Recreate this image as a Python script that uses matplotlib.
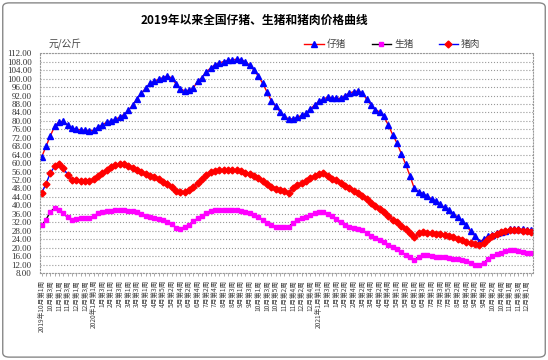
import matplotlib
matplotlib.use("Agg")
import matplotlib.pyplot as plt
from matplotlib.patches import FancyBboxPatch

plt.rcParams['font.family'] = ['Noto Sans CJK SC', 'DejaVu Sans']

# 每月的周数 (年, 月, 周数)
months = [(2019, 10, 4), (2019, 11, 4), (2019, 12, 4),
          (2020, 1, 4), (2020, 2, 4), (2020, 3, 4), (2020, 4, 5), (2020, 5, 4), (2020, 6, 4),
          (2020, 7, 5), (2020, 8, 4), (2020, 9, 4), (2020, 10, 5), (2020, 11, 4), (2020, 12, 5),
          (2021, 1, 5), (2021, 2, 4), (2021, 3, 4), (2021, 4, 5), (2021, 5, 4), (2021, 6, 4),
          (2021, 7, 5), (2021, 8, 4), (2021, 9, 4), (2021, 10, 5), (2021, 11, 4), (2021, 12, 2)]

piglet = [63, 68, 73, 77.5, 79.5, 79.8, 78, 76.5, 76, 75.8,
          75.6, 75.4, 75.5, 77, 78.2, 79.3, 80, 80.7, 81.8, 83,
          85, 87.5, 90.5, 93, 95.5, 97.8, 98.8, 99.7, 100.5, 101.3,
          100.3, 97.5, 95, 94.3, 94.5, 95.6, 98.8, 100.5, 103.3, 105,
          106.6, 107.4, 108.1, 108.6, 108.9, 109.2, 109, 108, 106.4, 104,
          101.2, 97.8, 93.7, 89.5, 86.9, 84.4, 82.1, 80.9, 81, 81.7,
          82.6, 83.6, 85.5, 87.6, 89.2, 90.4, 91.2, 91, 90.6, 90.7,
          92, 93.2, 93.8, 94.1, 93.3, 90.3, 87.6, 85.2, 84.3, 82.1,
          78, 73.5, 69.5, 64.5, 59.5, 54, 48, 46.5, 45.6, 44.3,
          43.1, 42, 40.5, 39, 37.8, 35.9, 34.5, 32.6, 30.5, 27.8,
          25.5, 22.8, 23.9, 25.3, 26.1, 26.8, 27.4, 28.1, 28.7, 28.9,
          28.9, 28.7, 28.4, 28.3]

hog = [30.5, 33.3, 37, 38.8, 38, 36.2, 34.3, 33, 33.7, 33.8,
       33.8, 34, 35, 36.2, 36.8, 37.2, 37.5, 37.7, 37.9, 37.7,
       37.4, 37.3, 36.8, 36.1, 35.2, 34.5, 34, 33.6, 32.9, 32.3,
       31.2, 29.4, 29, 29.8, 30.8, 32.5, 33.8, 35, 36.5, 37.4,
       37.6, 37.7, 37.7, 37.7, 37.7, 37.6, 37.4, 36.9, 36.3, 35.6,
       34.6, 33.2, 31.5, 30.5, 30, 29.9, 29.9, 29.9, 31.7, 33,
       34, 34.4, 35.4, 36.4, 36.8, 36.7, 35.8, 34.8, 33.5, 31.9,
       30.5, 29.8, 29.3, 28.9, 28.3, 27.1, 25.7, 24.6, 23.5, 22.6,
       21.4, 20.3, 19.3, 17.9, 16.7, 15.6, 14.1, 15.8, 16.3, 16.3,
       16, 15.8, 15.7, 15.5, 15.1, 14.8, 14.5, 14.1, 13.7, 12.8,
       12, 11.9, 12.8, 14.5, 16, 16.8, 17.6, 18.2, 18.7, 18.8,
       18.6, 18, 17.4, 17.3]

pork = [46, 50.3, 55.4, 58.5, 59.6, 57.5, 54.5, 51.9, 51.8, 51.6,
        51.4, 51.5, 52.5, 53.8, 55.2, 56.6, 58.2, 59.2, 59.7, 59.4,
        58.8, 57.7, 56.9, 55.8, 54.9, 54.1, 53.3, 52.3, 51.2, 50.3,
        48.8, 47, 46.2, 46.5, 47.5, 48.6, 50.8, 52.3, 54.5, 55.6,
        56.2, 56.6, 56.8, 56.7, 56.6, 56.6, 56.2, 55.5, 55, 54.1,
        53, 51.7, 50, 48.8, 47.8, 47.4, 47, 46, 48, 49.6,
        50.6, 51.6, 52.8, 54, 54.7, 55.3, 54, 52.7, 51.8, 50.5,
        49.2, 48.1, 47, 45.8, 44.4, 43, 41.2, 39.6, 38.3, 36.8,
        35, 33.3, 31.9, 30.3, 28.6, 27, 24.8, 26.8, 27.2, 27,
        26.8, 26.6, 26.3, 26, 25.6, 25, 24.3, 23.6, 22.9, 22.2,
        21.6, 21.3, 22.3, 24, 25.4, 26.5, 27.2, 27.8, 28.2, 28.3,
        28.2, 28, 27.7, 27.5]

# 周标签
labels = []
last_year = None
for y, m, n in months:
    for w in range(1, n + 1):
        if y != last_year:
            labels.append('%d年%d月第%d周' % (y, m, w))
            last_year = y
        else:
            labels.append('%d月第%d周' % (m, w))
x = list(range(len(labels)))

fig = plt.figure(figsize=(5.48, 3.6), dpi=100)
ax = fig.add_axes([0.073, 0.2417, 0.8996, 0.6103])

ax.plot(x, piglet, color='red', lw=1, marker='^', ms=4.5, mfc='blue', mec='blue', label='仔猪')
ax.plot(x, hog, color='black', lw=1, marker='s', ms=3.5, mfc='magenta', mec='magenta', label='生猪')
ax.plot(x, pork, color='blue', lw=1, marker='D', ms=3.5, mfc='red', mec='red', label='猪肉')

ax.set_ylim(8, 112)
ax.set_yticks(range(8, 113, 4))
ax.set_yticklabels(['%.2f' % v for v in range(8, 113, 4)], fontsize=6.5,
                   family=['Liberation Serif', 'DejaVu Serif'], color='#333333')
ax.set_xlim(-0.4, len(x) - 0.6)
ax.set_xticks(x)
ax.set_xticklabels([l if i % 2 == 0 else '' for i, l in enumerate(labels)],
                   rotation=90, fontsize=4.8, color='#444444')
ax.tick_params(axis='y', length=0, pad=6)
ax.tick_params(axis='x', length=2, width=0.5, color='#888888', pad=3)
ax.grid(axis='y', color='#999999', ls=':', lw=0.8)
for s in ax.spines.values():
    s.set_color('#999999')
    s.set_linestyle(':')
    s.set_linewidth(0.8)

fig.text(0.464, 0.944, '2019年以来全国仔猪、生猪和猪肉价格曲线', ha='center', va='center',
         fontsize=8.5, fontweight='bold')
fig.text(0.088, 0.878, '元/公斤', ha='left', va='center', fontsize=7, color='#444444')
ax.legend(loc='center right', bbox_to_anchor=(0.893, 0.878), bbox_transform=fig.transFigure,
          ncol=3, frameon=False, fontsize=7, handlelength=2.0, columnspacing=2.6,
          handletextpad=0.3, labelcolor='#444444')

fig.patches.append(FancyBboxPatch((0.005, 0.008), 0.99, 0.984,
                                  boxstyle='round,pad=0,rounding_size=0.012',
                                  transform=fig.transFigure, fill=False,
                                  ec='#888888', lw=1))

fig.savefig('out.png', dpi=100)
